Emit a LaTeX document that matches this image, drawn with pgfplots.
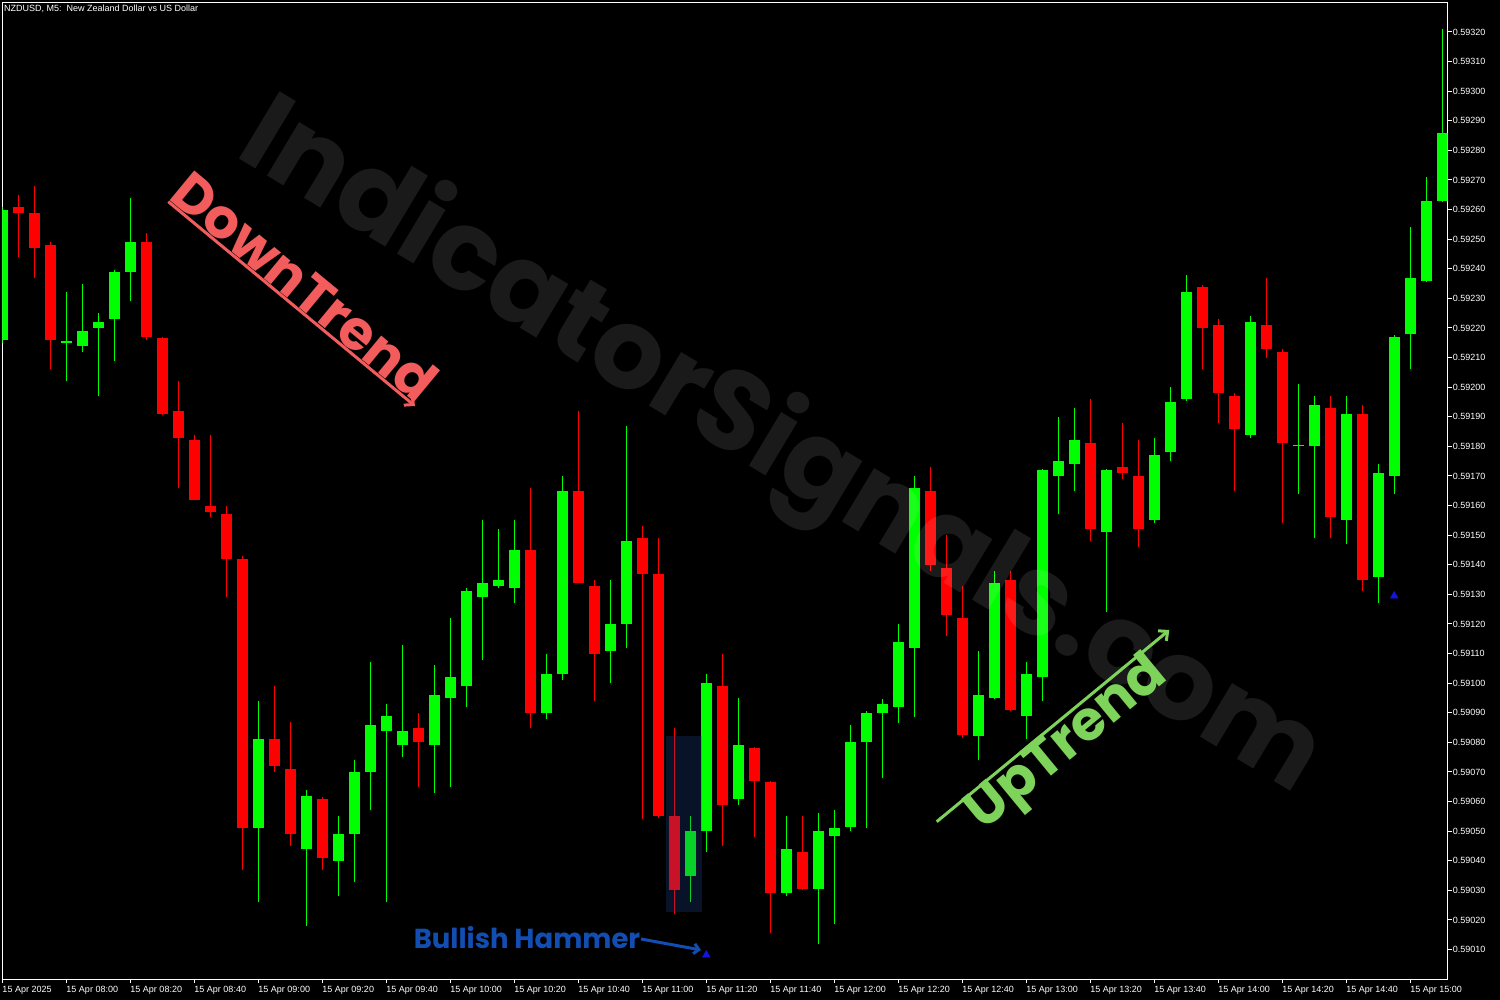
\documentclass[border=0pt]{standalone}
\usepackage{pgfplots}
\usepackage{pgfplotstable}
\pgfplotsset{compat=1.18}
\usetikzlibrary{arrows.meta}
\usepackage{fontspec}
\setmainfont{Liberation Sans}
\newfontfamily\pop{Poppins}
\definecolor{upc}{RGB}{0,255,0}
\definecolor{dnc}{RGB}{255,0,0}
\definecolor{downtxt}{RGB}{242,92,92}
\definecolor{uptxt}{RGB}{126,211,90}
\definecolor{hamtxt}{RGB}{18,78,178}
\definecolor{boxc}{RGB}{32,72,160}
\definecolor{arrc}{RGB}{20,20,225}

% bullish candles: x open high low close
\pgfplotstableread{
x o h l c
0 0.59216 0.59261 0.59215 0.59260
4 0.59215 0.59232 0.59202 0.592155
5 0.59214 0.59235 0.59212 0.59219
6 0.59220 0.59225 0.59197 0.59222
7 0.59223 0.592395 0.59209 0.59239
8 0.59239 0.59264 0.59229 0.59249
16 0.59051 0.59094 0.59026 0.59081
19 0.59044 0.59064 0.59018 0.59062
21 0.59040 0.59055 0.59028 0.59049
22 0.59049 0.59074 0.59033 0.59070
23 0.59070 0.59107 0.59057 0.59086
24 0.59084 0.59093 0.59026 0.59089
25 0.59079 0.59113 0.59075 0.59084
27 0.59079 0.59106 0.59063 0.59096
28 0.59095 0.59122 0.59065 0.59102
29 0.59099 0.59132 0.59092 0.59131
30 0.59129 0.59155 0.59108 0.59134
31 0.59133 0.59152 0.59132 0.59135
32 0.59132 0.59155 0.59127 0.59145
34 0.59090 0.59110 0.59088 0.59103
35 0.59103 0.59170 0.59101 0.59165
38 0.59111 0.59135 0.59100 0.59120
39 0.59120 0.59187 0.59112 0.59148
43 0.59035 0.59055 0.59026 0.59050
44 0.59050 0.59103 0.59043 0.59100
46 0.59061 0.59095 0.59059 0.59079
49 0.59029 0.59055 0.59028 0.59044
51 0.590305 0.59056 0.59012 0.59050
52 0.590485 0.59057 0.590186 0.59051
53 0.590515 0.59086 0.59050 0.59080
54 0.59080 0.590905 0.59051 0.59090
55 0.59090 0.590945 0.59068 0.59093
56 0.59092 0.59120 0.590865 0.59114
57 0.59112 0.59170 0.590885 0.59166
61 0.59082 0.59111 0.59074 0.59096
62 0.59095 0.59138 0.590945 0.59134
64 0.59089 0.59107 0.59081 0.59103
65 0.59102 0.591725 0.59094 0.59172
66 0.59170 0.59190 0.59157 0.59175
67 0.59174 0.59193 0.59165 0.59182
69 0.59151 0.591725 0.59124 0.59172
72 0.59155 0.59183 0.59154 0.59177
73 0.59178 0.59200 0.59175 0.59195
74 0.59196 0.59238 0.591955 0.59232
78 0.59184 0.59224 0.59183 0.59222
81 0.59180 0.59201 0.59164 0.591804
82 0.59180 0.59197 0.59149 0.59194
84 0.59155 0.59197 0.59147 0.59191
86 0.59136 0.59174 0.59127 0.59171
87 0.59170 0.592175 0.59164 0.59217
88 0.59218 0.59254 0.59206 0.59237
89 0.59236 0.59271 0.592355 0.59263
90 0.59263 0.59321 0.592625 0.59286
}\upcandles

% bearish candles: x open high low close
\pgfplotstableread{
x o h l c
1 0.59261 0.59265 0.59244 0.59259
2 0.59259 0.59268 0.59237 0.59247
3 0.59248 0.59249 0.59206 0.59216
9 0.59249 0.59252 0.59216 0.59217
10 0.592165 0.59217 0.591905 0.59191
11 0.59192 0.59202 0.59166 0.59183
12 0.59182 0.59184 0.59162 0.59162
13 0.59160 0.59184 0.59156 0.59158
14 0.59157 0.59160 0.59129 0.59142
15 0.59142 0.59143 0.59037 0.59051
17 0.59081 0.59099 0.59070 0.59072
18 0.59071 0.59087 0.59045 0.59049
20 0.59061 0.590615 0.59037 0.59041
26 0.59085 0.59090 0.59065 0.59080
33 0.59145 0.59166 0.59085 0.59090
36 0.59165 0.59192 0.59134 0.59134
37 0.59133 0.59135 0.59094 0.59110
40 0.59149 0.59153 0.59054 0.59137
41 0.59137 0.59149 0.590545 0.59055
42 0.59055 0.59085 0.59022 0.59030
45 0.59099 0.59110 0.59045 0.59059
47 0.59078 0.590785 0.59048 0.59067
48 0.590665 0.59067 0.590155 0.59029
50 0.59043 0.59055 0.59030 0.590305
58 0.59165 0.59173 0.59138 0.59140
59 0.59139 0.59150 0.59116 0.59123
60 0.59122 0.59133 0.590815 0.590825
63 0.59135 0.59138 0.590905 0.59091
68 0.59181 0.59196 0.59148 0.59152
70 0.59173 0.59188 0.59169 0.59171
71 0.59170 0.59182 0.59146 0.59152
75 0.59234 0.592345 0.59206 0.59220
76 0.59221 0.59223 0.59188 0.59198
77 0.59197 0.59198 0.59165 0.59186
79 0.59221 0.59237 0.59210 0.59213
80 0.59212 0.59213 0.59154 0.59181
83 0.59193 0.59197 0.59149 0.59156
85 0.59191 0.59194 0.59131 0.59135
}\downcandles

\begin{document}
\begin{tikzpicture}
\useasboundingbox (0,0) rectangle (1500pt,1000pt);
\fill[black] (0,0) rectangle (1500pt,1000pt);
\begin{axis}[
  at={(2.3pt,20.8pt)}, anchor=south west,
  scale only axis, width=1445.4pt, height=976.8pt,
  xmin=0, xmax=90.34, ymin=0.59, ymax=0.5933,
  axis line style={white, line width=1pt},
  tick style={white, line width=1pt},
  major tick length=4pt,
  tick align=outside,
  xtick pos=left, ytick pos=right,
  yticklabel pos=right,
  xtick={0,4,...,88},
  xticklabels={15 Apr 2025,15 Apr 08:00,15 Apr 08:20,15 Apr 08:40,15 Apr 09:00,15 Apr 09:20,15 Apr 09:40,15 Apr 10:00,15 Apr 10:20,15 Apr 10:40,15 Apr 11:00,15 Apr 11:20,15 Apr 11:40,15 Apr 12:00,15 Apr 12:20,15 Apr 12:40,15 Apr 13:00,15 Apr 13:20,15 Apr 13:40,15 Apr 14:00,15 Apr 14:20,15 Apr 14:40,15 Apr 15:00},
  ytick={0.5901,0.5902,0.5903,0.5904,0.5905,0.5906,0.5907,0.5908,0.5909,0.5910,0.5911,0.5912,0.5913,0.5914,0.5915,0.5916,0.5917,0.5918,0.5919,0.5920,0.5921,0.5922,0.5923,0.5924,0.5925,0.5926,0.5927,0.5928,0.5929,0.5930,0.5931,0.5932},
  yticklabels={0.59010,0.59020,0.59030,0.59040,0.59050,0.59060,0.59070,0.59080,0.59090,0.59100,0.59110,0.59120,0.59130,0.59140,0.59150,0.59160,0.59170,0.59180,0.59190,0.59200,0.59210,0.59220,0.59230,0.59240,0.59250,0.59260,0.59270,0.59280,0.59290,0.59300,0.59310,0.59320},
  ticklabel style={font=\fontsize{9}{10}\selectfont, text=white},
  xticklabel style={anchor=north west, inner sep=0pt, yshift=-3pt},
  yticklabel style={anchor=west, inner sep=0pt, xshift=1pt},
]
% wicks
\addplot[draw=none, mark=none, forget plot,
  error bars/.cd, y dir=plus, y explicit, error mark=none,
  error bar style={line width=1pt, draw=upc}]
  table[x=x, y=l, y error plus expr={\thisrow{h}-\thisrow{l}}] {\upcandles};
\addplot[draw=none, mark=none, forget plot,
  error bars/.cd, y dir=plus, y explicit, error mark=none,
  error bar style={line width=1pt, draw=dnc}]
  table[x=x, y=l, y error plus expr={\thisrow{h}-\thisrow{l}}] {\downcandles};
% bodies
\addplot[draw=none, mark=none, forget plot,
  error bars/.cd, y dir=plus, y explicit, error mark=none,
  error bar style={line width=11pt, draw=upc, line cap=butt}]
  table[x=x, y=o, y error plus expr={\thisrow{c}-\thisrow{o}}] {\upcandles};
\addplot[draw=none, mark=none, forget plot,
  error bars/.cd, y dir=plus, y explicit, error mark=none,
  error bar style={line width=11pt, draw=dnc, line cap=butt}]
  table[x=x, y=c, y error plus expr={\thisrow{o}-\thisrow{c}}] {\downcandles};
% signal arrows
\addplot[only marks, mark=triangle*, mark size=4.5pt, color=arrc]
  coordinates {(44,0.590082) (87,0.591295)};
% hammer highlight box
\fill[boxc, opacity=0.25] (axis cs:41.48,0.590822) rectangle (axis cs:43.73,0.590227);
\end{axis}
% title
\node[anchor=west, text=white, font=\fontsize{9}{10}\selectfont, inner sep=0pt] at (4pt,991pt) {NZDUSD, M5:\ \ New Zealand Dollar vs US Dollar};
% watermark
\node[rotate=-31, text=white, opacity=0.1, font=\pop\bfseries\fontsize{112}{120}\selectfont] at (780pt,550pt) {IndicatorSignals.com};
% DownTrend
\draw[downtxt, line width=3pt, -{Straight Barb[length=7pt,width=13pt]}] (168.3pt,798.3pt) -- (415pt,594pt);
\node[rotate=-39.6, text=downtxt, font=\pop\bfseries\fontsize{55}{60}\selectfont] at (305pt,714pt) {DownTrend};
% UpTrend
\draw[uptxt, line width=3pt, -{Straight Barb[length=7pt,width=13pt]}] (936.7pt,178.3pt) -- (1169.3pt,370pt);
\node[rotate=39.5, text=uptxt, font=\pop\bfseries\fontsize{55}{60}\selectfont] at (1068pt,255pt) {UpTrend};
% Bullish Hammer
\node[text=hamtxt, font=\pop\bfseries\fontsize{27.5}{30}\selectfont] at (527pt,62pt) {Bullish Hammer};
\draw[hamtxt, line width=3pt, -{Straight Barb[length=5pt,width=10pt]}] (641pt,61pt) -- (701pt,50pt);
\end{tikzpicture}
\end{document}
